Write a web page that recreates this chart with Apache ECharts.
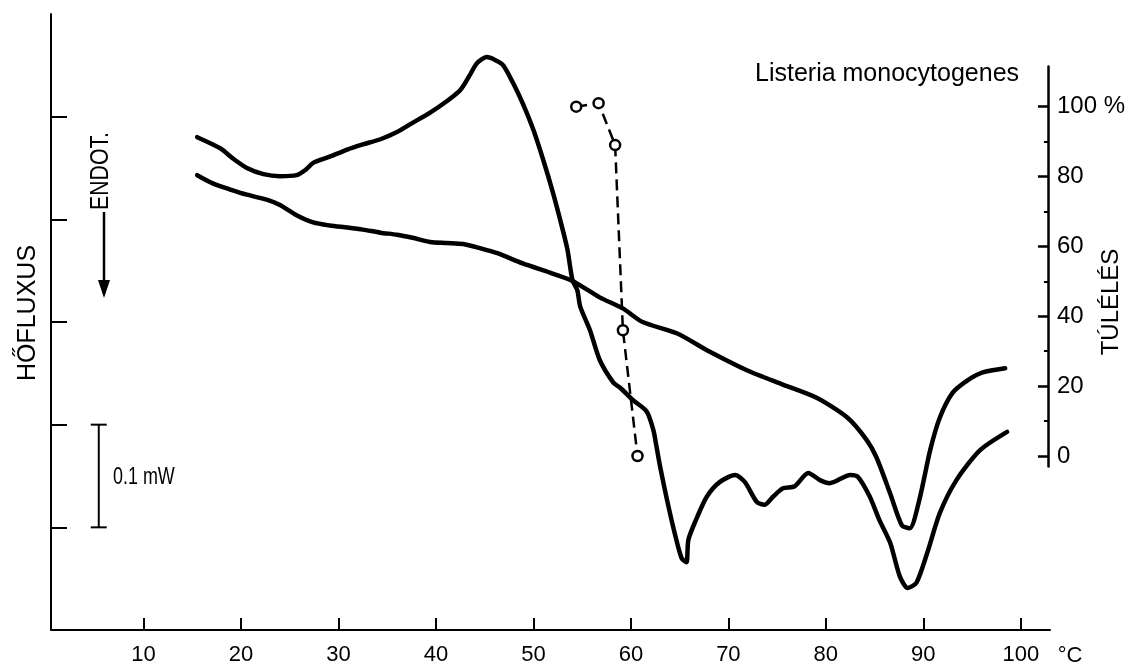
<!DOCTYPE html>
<html>
<head>
<meta charset="utf-8">
<script src="https://cdn.jsdelivr.net/npm/echarts@6/dist/echarts.min.js"></script>
<style>
  html, body { margin: 0; padding: 0; background: #fff; }
  #chart { width: 1128px; height: 670px; }
</style>
</head>
<body>
<div id="chart"></div>
<script>
// heat flow curves (left axis, units of 0.1 mW above the baseline)
const curveATemp = [15.5, 17.9, 19.2, 20.6, 22.3, 24.0, 25.7, 26.6, 27.4, 29.1, 30.9, 32.5, 34.3, 36.0, 37.6, 39.4, 41.1, 42.5, 43.5, 44.2, 45.2, 46.1, 46.9, 47.9, 48.9, 50.0, 51.0, 52.0, 53.0, 53.5, 54.0, 54.5, 54.8, 55.8, 56.8, 58.2, 58.9, 60.2, 61.6, 62.3, 62.6, 63.0, 63.7, 64.5, 65.2, 65.7, 65.9, 66.8, 67.8, 69.1, 70.7, 71.7, 72.9, 73.7, 74.6, 75.6, 76.8, 78.2, 79.4, 80.4, 82.5, 83.3, 84.5, 85.5, 86.6, 87.6, 88.4, 89.3, 90.4, 91.7, 93.4, 95.8, 98.6]
const curveAFlow = [4.80, 4.69, 4.59, 4.50, 4.44, 4.42, 4.43, 4.48, 4.55, 4.61, 4.68, 4.73, 4.78, 4.85, 4.94, 5.04, 5.15, 5.26, 5.41, 5.52, 5.58, 5.55, 5.50, 5.33, 5.13, 4.87, 4.58, 4.26, 3.90, 3.70, 3.41, 3.31, 3.15, 2.92, 2.63, 2.41, 2.36, 2.24, 2.13, 1.95, 1.80, 1.59, 1.27, 0.94, 0.70, 0.66, 0.88, 1.10, 1.30, 1.44, 1.51, 1.44, 1.25, 1.22, 1.30, 1.38, 1.40, 1.53, 1.46, 1.43, 1.51, 1.49, 1.30, 1.07, 0.85, 0.52, 0.41, 0.46, 0.75, 1.14, 1.46, 1.75, 1.93]

const curveBTemp = [15.5, 17.1, 18.9, 20.6, 22.7, 24.0, 25.7, 27.4, 29.1, 30.9, 32.5, 34.3, 36.0, 37.6, 39.4, 41.1, 42.8, 44.5, 46.3, 48.9, 51.7, 54.0, 56.8, 59.2, 61.2, 64.7, 68.1, 71.9, 75.6, 79.1, 82.2, 84.2, 85.2, 86.6, 87.8, 88.6, 89.6, 90.7, 91.7, 93.0, 94.5, 96.1, 98.4]
const curveBFlow = [4.43, 4.35, 4.29, 4.24, 4.19, 4.14, 4.04, 3.97, 3.94, 3.92, 3.90, 3.87, 3.85, 3.82, 3.78, 3.77, 3.76, 3.72, 3.67, 3.57, 3.48, 3.40, 3.24, 3.13, 3.00, 2.89, 2.71, 2.53, 2.39, 2.26, 2.07, 1.85, 1.68, 1.33, 1.02, 0.99, 1.27, 1.75, 2.07, 2.31, 2.43, 2.51, 2.55]

// survival (right axis, %)
const survivalTemp = [54.5, 56.8, 58.5, 59.3, 60.8]
const survivalPct = [100, 101, 89, 36, 0]

// axis ticks
const xTicks = [10, 20, 30, 40, 50, 60, 70, 80, 90, 100]
const leftTicks = [1, 2, 3, 4, 5]
const rightTicks = [0, 20, 40, 60, 80, 100]
const rightMinorTicks = [10, 30, 50, 70, 90]

// 0.1 mW scale bar, drawn on the left axis scale
const scaleBarTemp = [5.4, 5.4]
const scaleBarFlow = [1, 2]

const font = 'Liberation Sans'
const ink = '#000'

const zip = (xs, ys) => xs.map((x, i) => [x, ys[i]])

const chart = echarts.init(document.getElementById('chart'))

const option = {
  animation: false,
  backgroundColor: '#fff',
  grid: [
    { left: 51, right: 78, top: 14, bottom: 40 },
    { left: 51, right: 78, top: 66.5, bottom: 203.5 },
  ],
  xAxis: [
    {
      gridIndex: 0,
      type: 'value',
      min: 0.5,
      max: 103,
      axisLine: { lineStyle: { color: ink, width: 2 } },
      axisTick: { inside: true, length: 12, customValues: xTicks, lineStyle: { color: ink, width: 2 } },
      axisLabel: { customValues: xTicks, color: ink, fontFamily: font, fontSize: 22, margin: 14 },
      splitLine: { show: false },
    },
    {
      gridIndex: 1,
      type: 'value',
      min: 0.5,
      max: 103,
      show: false,
    },
  ],
  yAxis: [
    {
      gridIndex: 0,
      type: 'value',
      min: 0,
      max: 6,
      axisLine: { show: true, lineStyle: { color: ink, width: 2 } },
      axisTick: { show: true, inside: true, length: 16, customValues: leftTicks, lineStyle: { color: ink, width: 2 } },
      axisLabel: { show: false },
      splitLine: { show: false },
    },
    {
      gridIndex: 1,
      type: 'value',
      position: 'right',
      min: -3,
      max: 111.5,
      axisLine: { show: true, lineStyle: { color: ink, width: 2.5 } },
      axisTick: { show: true, inside: true, length: 10, customValues: rightTicks, lineStyle: { color: ink, width: 2.5 } },
      axisLabel: {
        customValues: rightTicks,
        color: ink,
        fontFamily: font,
        fontSize: 24,
        margin: 9,
        formatter: (v) => (v === 100 ? '100 %' : String(v)),
      },
      splitLine: { show: false },
    },
    {
      gridIndex: 1,
      type: 'value',
      position: 'right',
      min: -3,
      max: 111.5,
      axisLine: { show: false },
      axisTick: { show: true, inside: true, length: 4, customValues: rightMinorTicks, lineStyle: { color: ink, width: 2 } },
      axisLabel: { show: false },
      splitLine: { show: false },
    },
  ],
  series: [
    {
      name: 'curve A',
      type: 'line',
      xAxisIndex: 0,
      yAxisIndex: 0,
      data: zip(curveATemp, curveAFlow),
      showSymbol: false,
      smooth: 0.25,
      lineStyle: { color: ink, width: 4.5, cap: 'round', join: 'round' },
    },
    {
      name: 'curve B',
      type: 'line',
      xAxisIndex: 0,
      yAxisIndex: 0,
      data: zip(curveBTemp, curveBFlow),
      showSymbol: false,
      smooth: 0.25,
      lineStyle: { color: ink, width: 4.5, cap: 'round', join: 'round' },
    },
    {
      name: 'scale bar',
      type: 'line',
      xAxisIndex: 0,
      yAxisIndex: 0,
      data: zip(scaleBarTemp, scaleBarFlow),
      symbol: 'rect',
      symbolSize: [16, 2],
      itemStyle: { color: ink },
      lineStyle: { color: ink, width: 2 },
    },
    {
      name: 'TÚLÉLÉS',
      type: 'line',
      xAxisIndex: 1,
      yAxisIndex: 1,
      data: zip(survivalTemp, survivalPct),
      symbol: 'circle',
      symbolSize: 10,
      itemStyle: { color: '#fff', borderColor: ink, borderWidth: 2.5 },
      lineStyle: { color: ink, width: 2.5, type: [11, 6] },
      z: 5,
    },
  ],
  graphic: [
    {
      type: 'text', x: 28, y: 313, rotation: Math.PI / 2,
      style: { text: 'HŐFLUXUS', x: 0, y: 0, align: 'center', verticalAlign: 'middle', fill: ink, font: `25px "${font}"` },
    },
    {
      type: 'text', x: 101, y: 171, rotation: Math.PI / 2, scaleX: 0.85,
      style: { text: 'ENDOT.', x: 0, y: 0, align: 'center', verticalAlign: 'middle', fill: ink, font: `25px "${font}"` },
    },
    {
      type: 'line',
      shape: { x1: 104, y1: 212, x2: 104, y2: 286 },
      style: { stroke: ink, lineWidth: 2.5 },
    },
    {
      type: 'polygon',
      shape: { points: [[98, 280], [110, 280], [104, 298]] },
      style: { fill: ink },
    },
    {
      type: 'text', x: 113, y: 478, scaleX: 0.78,
      style: { text: '0.1 mW', x: 0, y: 0, align: 'left', verticalAlign: 'middle', fill: ink, font: `23px "${font}"` },
    },
    {
      type: 'text', x: 755, y: 74,
      style: { text: 'Listeria monocytogenes', x: 0, y: 0, align: 'left', verticalAlign: 'middle', fill: ink, font: `25px "${font}"` },
    },
    {
      type: 'text', x: 1111, y: 302, rotation: Math.PI / 2,
      style: { text: 'TÚLÉLÉS', x: 0, y: 0, align: 'center', verticalAlign: 'middle', fill: ink, font: `24px "${font}"` },
    },
    {
      type: 'text', x: 1070, y: 656,
      style: { text: '°C', x: 0, y: 0, align: 'center', verticalAlign: 'middle', fill: ink, font: `22px "${font}"` },
    },
  ],
}

chart.setOption(option)
window.addEventListener('resize', chart.resize)
</script>
</body>
</html>
